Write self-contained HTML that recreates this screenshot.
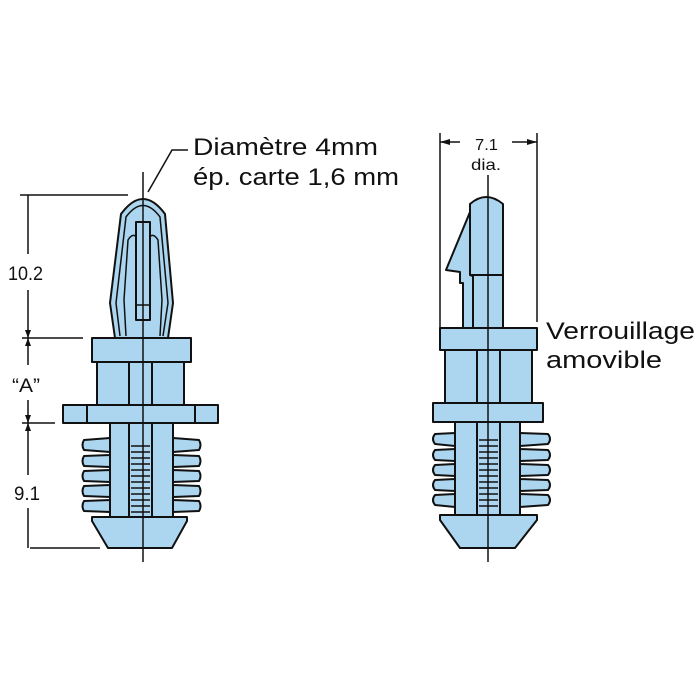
<!DOCTYPE html>
<html><head><meta charset="utf-8"><style>
html,body{margin:0;padding:0;background:#fff;}
svg{display:block;}
text{font-family:"Liberation Sans",sans-serif;fill:#111;}
</style></head><body>
<svg width="700" height="700" viewBox="0 0 700 700" xmlns="http://www.w3.org/2000/svg">
<g stroke="#111" stroke-width="2" fill="#acd6f0" stroke-linejoin="round">
<path d="M115,338 L110,303 L121,214 Q143,184 165,214 L173,303 L168,338 Z"/>
<path d="M120,336 L116,303 L126,217 Q143,194 160,217 L168,303 L163,336" fill="none" stroke-width="1.5"/>
<path d="M126,336 L124,300 L128,240 Q133,232 137,238 M160,336 L162,300 L158,240 Q153,232 149,238" fill="none" stroke-width="1.5"/>
<rect x="136" y="222" width="14" height="98" fill="#acd6f0"/>
<line x1="136" y1="305" x2="150" y2="305" stroke-width="1.5"/>
<rect x="92" y="338" width="99" height="24"/>
<rect x="97" y="362" width="87" height="43"/>
<line x1="129" y1="362" x2="129" y2="405"/><line x1="152" y1="362" x2="152" y2="405"/>
<rect x="63" y="405" width="155" height="18"/>
<line x1="87" y1="405" x2="87" y2="423"/><line x1="195" y1="405" x2="195" y2="423"/>
<path d="M110,438 L84,440 Q81,445 84,450 L110,452 L110,455 L84,456 Q81,461 84,466 L110,467 L110,470 L84,471 Q81,476 84,481 L110,482 L110,485 L84,486 Q81,491 84,496 L110,497 L110,500 L84,501 Q81,506 84,511 L110,512 Z"/>
<path d="M173,438 L199,440 Q202,445 199,450 L173,452 L173,455 L199,456 Q202,461 199,466 L173,467 L173,470 L199,471 Q202,476 199,481 L173,482 L173,485 L199,486 Q202,491 199,496 L173,497 L173,500 L199,501 Q202,506 199,511 L173,512 Z"/>
<rect x="110" y="423" width="63" height="94"/>
<rect x="129" y="423" width="23" height="94"/>
<g stroke-width="1.5">
<line x1="131" y1="446" x2="150" y2="446"/><line x1="131" y1="452" x2="150" y2="452"/>
<line x1="131" y1="458" x2="150" y2="458"/><line x1="131" y1="464" x2="150" y2="464"/>
<line x1="131" y1="470" x2="150" y2="470"/><line x1="131" y1="476" x2="150" y2="476"/>
<line x1="131" y1="482" x2="150" y2="482"/><line x1="131" y1="488" x2="150" y2="488"/>
<line x1="131" y1="494" x2="150" y2="494"/><line x1="131" y1="500" x2="150" y2="500"/>
<line x1="131" y1="506" x2="150" y2="506"/><line x1="131" y1="512" x2="150" y2="512"/>
</g>
<path d="M92,517 L187,517 L187,521 L172,548 L108,548 L92,521 Z"/>

<path d="M470,305 L470,204 Q486,190 503,204 L503,305 Z"/>
<line x1="470" y1="275" x2="503" y2="275"/>
<path d="M470,212 L446,270 L460,272 L460,283 L463,283 L463,328 L473,328 L473,276 L470,275 Z"/>
<rect x="473" y="275" width="30" height="53"/>
<rect x="440" y="328" width="97" height="22"/>
<rect x="445" y="350" width="87" height="53"/>
<line x1="477" y1="350" x2="477" y2="403"/><line x1="500" y1="350" x2="500" y2="403"/>
<rect x="433" y="403" width="110" height="19"/>
<path d="M455,433 L435,434 Q431,439 435,444 L455,446 L455,449 L435,450 Q431,455 435,460 L455,461 L455,464 L435,465 Q431,470 435,475 L455,476 L455,479 L435,480 Q431,485 435,490 L455,491 L455,494 L435,495 Q431,500 435,505 L455,507 Z"/>
<path d="M520,433 L548,434 Q552,439 548,444 L520,446 L520,449 L548,450 Q552,455 548,460 L520,461 L520,464 L548,465 Q552,470 548,475 L520,476 L520,479 L548,480 Q552,485 548,490 L520,491 L520,494 L548,495 Q552,500 548,505 L520,507 Z"/>
<rect x="455" y="422" width="65" height="93"/>
<rect x="477" y="422" width="23" height="93"/>
<g stroke-width="1.5">
<line x1="479" y1="440" x2="498" y2="440"/><line x1="479" y1="446" x2="498" y2="446"/>
<line x1="479" y1="452" x2="498" y2="452"/><line x1="479" y1="458" x2="498" y2="458"/>
<line x1="479" y1="464" x2="498" y2="464"/><line x1="479" y1="470" x2="498" y2="470"/>
<line x1="479" y1="476" x2="498" y2="476"/><line x1="479" y1="482" x2="498" y2="482"/>
<line x1="479" y1="488" x2="498" y2="488"/><line x1="479" y1="494" x2="498" y2="494"/>
<line x1="479" y1="500" x2="498" y2="500"/><line x1="479" y1="506" x2="498" y2="506"/>
</g>
<path d="M440,515 L537,515 L537,520 L515,548 L460,548 L440,520 Z"/>
</g>

<g stroke="#111" stroke-width="1.5" fill="none">
<line x1="143" y1="172" x2="143" y2="562"/>
<line x1="488" y1="175" x2="488" y2="562"/>
<line x1="20" y1="195" x2="128" y2="195"/>
<line x1="22" y1="338" x2="83" y2="338"/>
<line x1="22" y1="423" x2="55" y2="423"/>
<line x1="30" y1="548" x2="100" y2="548"/>
<line x1="28" y1="195" x2="28" y2="254"/>
<line x1="28" y1="290" x2="28" y2="365"/>
<line x1="28" y1="400" x2="28" y2="475"/>
<line x1="28" y1="508" x2="28" y2="548"/>
<line x1="440" y1="133" x2="440" y2="330"/>
<line x1="537" y1="133" x2="537" y2="322"/>
<line x1="440" y1="142" x2="460" y2="142"/>
<line x1="512" y1="142" x2="537" y2="142"/>
<path d="M188,150 L172,150 L148,192"/>
</g>
<g fill="#111">
<path d="M440,142 L450,139 L450,145 Z"/><path d="M537,142 L527,139 L527,145 Z"/>
<path d="M28,338 L25,330 L31,330 Z"/><path d="M28,338 L25,346 L31,346 Z"/>
<path d="M28,423 L25,415 L31,415 Z"/><path d="M28,423 L25,431 L31,431 Z"/>
</g>
<text x="8" y="280" font-size="19" textLength="35" lengthAdjust="spacingAndGlyphs">10.2</text>
<text x="12" y="392" font-size="19" textLength="28" lengthAdjust="spacingAndGlyphs">“A”</text>
<text x="14" y="500" font-size="19" textLength="26" lengthAdjust="spacingAndGlyphs">9.1</text>
<text x="475" y="150" font-size="16" textLength="23" lengthAdjust="spacingAndGlyphs">7.1</text>
<text x="471" y="170" font-size="16" textLength="30" lengthAdjust="spacingAndGlyphs">dia.</text>
<text x="193" y="155" font-size="24" textLength="185" lengthAdjust="spacingAndGlyphs">Diamètre 4mm</text>
<text x="193" y="185" font-size="24" textLength="206" lengthAdjust="spacingAndGlyphs">ép. carte 1,6 mm</text>
<text x="546" y="339" font-size="24" textLength="149" lengthAdjust="spacingAndGlyphs">Verrouillage</text>
<text x="546" y="368" font-size="24" textLength="116" lengthAdjust="spacingAndGlyphs">amovible</text>
</svg>
</body></html>
